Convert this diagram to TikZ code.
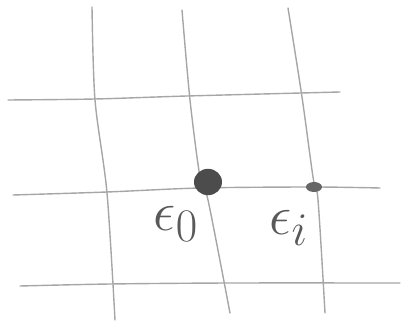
\documentclass[tikz,border=0pt]{standalone}
\usetikzlibrary{positioning,shapes.geometric}
\begin{document}
\begin{tikzpicture}[
        x=0.025cm, y=-0.025cm,
        gridline/.style={draw=black!35, line width=0.35mm, line cap=round}, % lattice lines
        bigdot/.style={ellipse, fill=black!70, minimum width=0.7cm, minimum height=0.66cm, inner sep=0pt},
        smalldot/.style={ellipse, fill=black!60, minimum width=0.4cm, minimum height=0.25cm, inner sep=0pt},
        lbl/.style={font=\Huge, scale=1.6, text=black!65}
    ]
    \useasboundingbox (0,0) rectangle (406,326);

    % vertical lines
    \draw[gridline] plot[smooth] coordinates {(92,7) (95,100) (107,193) (115,320)};
    \draw[gridline] plot[smooth] coordinates {(182,10) (190,100) (200,177) (208,200) (230,313)};
    \draw[gridline] plot[smooth] coordinates {(288,8) (302,97) (313,177) (318,200) (325,313)};

    % horizontal lines
    \draw[gridline] plot[smooth] coordinates {(8,100) (95,99) (187,96) (340,92)};
    \draw[gridline] plot[smooth] coordinates {(13,195) (107,192) (200,188) (313,187) (380,188)};
    \draw[gridline] plot[smooth] coordinates {(20,286) (110,284) (230,283) (400,283)};

    % lattice points
    \node (e0) [bigdot] at (208,182) {};
    \node (ei) [smalldot] at (314,187) {};

    % labels
    \node (e0lbl) [lbl] at (176,224) {$\epsilon_0$};
    \node (eilbl) [lbl] at (289,228) {$\epsilon_i$};
\end{tikzpicture}
\end{document}
